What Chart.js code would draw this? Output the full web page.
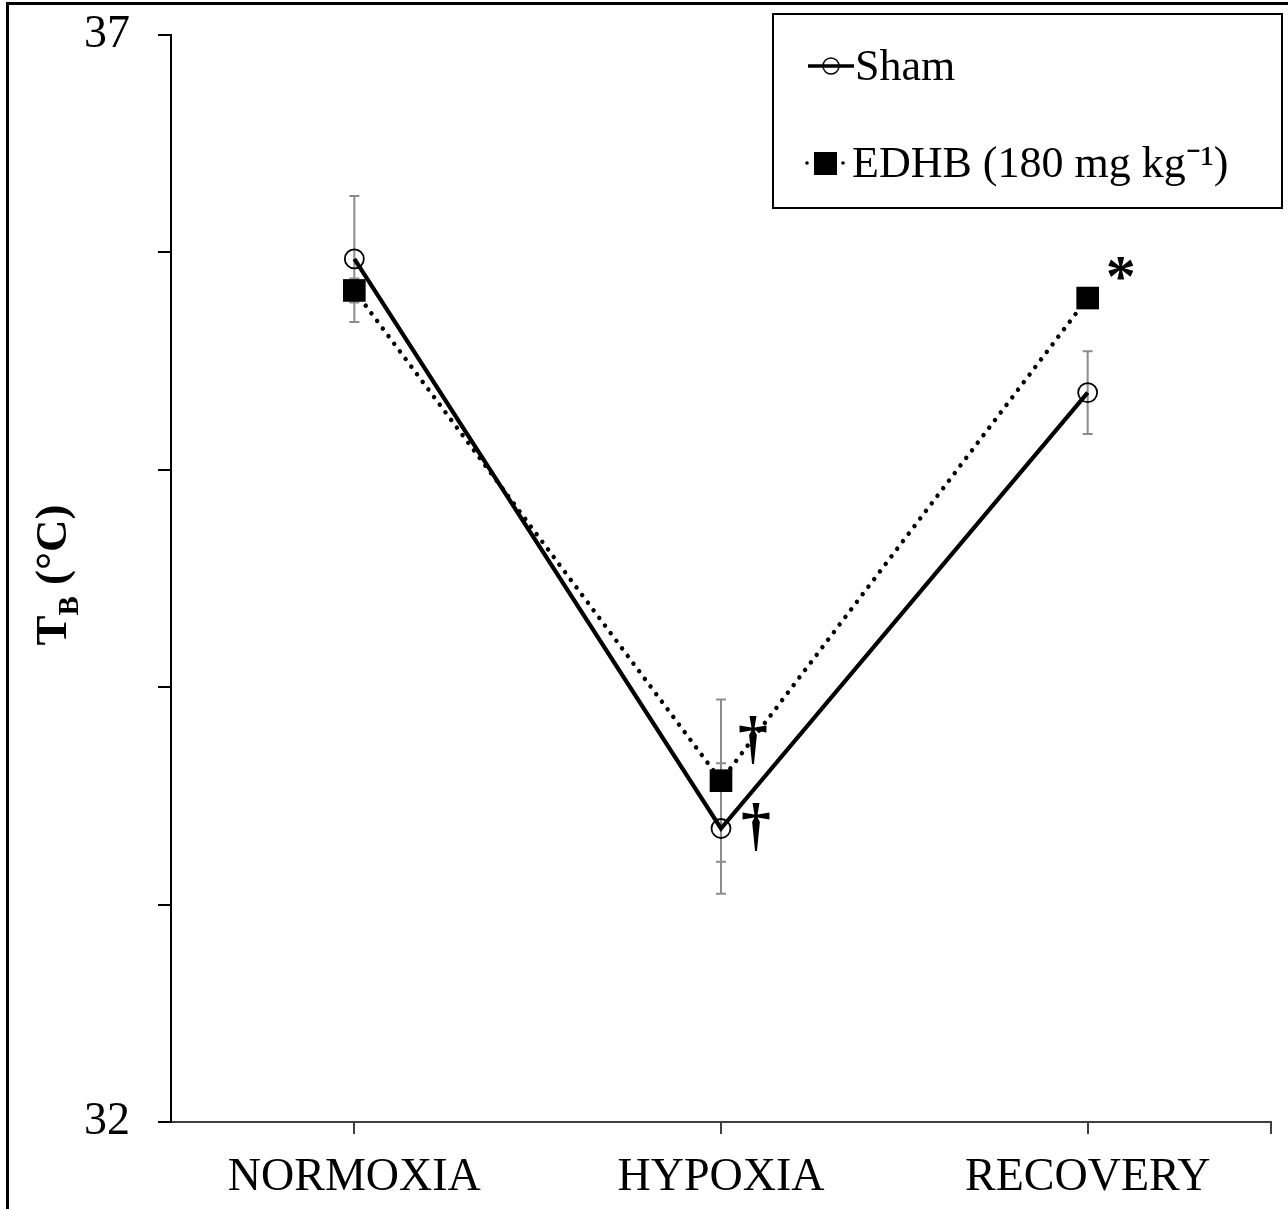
<!DOCTYPE html>
<html><head><meta charset="utf-8">
<script src="https://cdn.jsdelivr.net/npm/chart.js@4/dist/chart.umd.min.js"></script>
<style>html,body{margin:0;padding:0;background:#fff}#wrap{width:1288px;height:1209px;position:relative}</style>
</head><body><div id="wrap"><canvas id="c" width="1288" height="1209"></canvas></div>
<script>
// ---- data ----
const categories = ['NORMOXIA', 'HYPOXIA', 'RECOVERY'];
const seriesNames = ['Sham', 'EDHB (180 mg kg\u207B\u00B9)'];
const shamValues = [35.97, 33.35, 35.355];
const shamErrors = [0.29, 0.30, 0.19];
const edhbValues = [35.825, 33.57, 35.79];
const edhbErrors = [0.055, 0.373, 0.0];
const yTickLabels = { 32: '32', 37: '37' };
const yTitleMain = 'T';
const yTitleSub = 'B';
const yTitleRest = ' (\u00B0C)';
const markSeries = [0, 1, 1];
const markIndex = [1, 1, 2];
const markText = ['\u2020', '\u2020', '*'];

const SERIF = '"Liberation Serif", "Times New Roman", serif';
const markOffsets = [[35, 0], [32, -39], [33, -18]];

const errorBars = {
  id: 'errorBars',
  beforeDatasetsDraw(chart) {
    const ctx = chart.ctx, ys = chart.scales.y;
    const errs = [shamErrors, edhbErrors];
    const vals = [shamValues, edhbValues];
    ctx.save();
    ctx.strokeStyle = '#8c8c8c';
    ctx.lineWidth = 2;
    [0, 1].forEach(d => {
      const meta = chart.getDatasetMeta(d);
      meta.data.forEach((pt, i) => {
        const e = errs[d][i];
        if (!e) return;
        const yt = ys.getPixelForValue(vals[d][i] + e);
        const yb = ys.getPixelForValue(vals[d][i] - e);
        ctx.beginPath();
        ctx.moveTo(pt.x, yt); ctx.lineTo(pt.x, yb);
        ctx.moveTo(pt.x - 5, yt); ctx.lineTo(pt.x + 5, yt);
        ctx.moveTo(pt.x - 5, yb); ctx.lineTo(pt.x + 5, yb);
        ctx.stroke();
      });
    });
    ctx.restore();
  }
};

const extras = {
  id: 'extras',
  afterDraw(chart) {
    const ctx = chart.ctx, ca = chart.chartArea;
    ctx.save();
    // outer frame
    ctx.fillStyle = '#000';
    ctx.fillRect(6, 2, 3, 1207);
    ctx.fillRect(6, 2, 1282, 3);
    // right-end x tick
    ctx.strokeStyle = '#404040';
    ctx.lineWidth = 2;
    ctx.beginPath();
    ctx.moveTo(ca.right, ca.bottom); ctx.lineTo(ca.right, ca.bottom + 12);
    ctx.stroke();

    // annotation marks
    ctx.fillStyle = '#000';
    ctx.textAlign = 'center';
    ctx.textBaseline = 'middle';
    ctx.font = 'bold 60px ' + SERIF;
    markText.forEach((t, k) => {
      const pt = chart.getDatasetMeta(markSeries[k]).data[markIndex[k]];
      const off = markOffsets[k];
      ctx.fillText(t, pt.x + off[0], pt.y + off[1]);
    });

    // y title
    ctx.save();
    ctx.translate(66, 575);
    ctx.rotate(-Math.PI / 2);
    ctx.textBaseline = 'alphabetic';
    ctx.textAlign = 'left';
    const fMain = 'bold 45px ' + SERIF, fSub = 'bold 29px ' + SERIF;
    ctx.font = fMain; const w1 = ctx.measureText(yTitleMain).width;
    ctx.font = fSub; const w2 = ctx.measureText(yTitleSub).width;
    ctx.font = fMain; const w3 = ctx.measureText(yTitleRest).width;
    let x0 = -(w1 + w2 + w3) / 2;
    ctx.font = fMain; ctx.fillText(yTitleMain, x0, 0);
    ctx.font = fSub; ctx.fillText(yTitleSub, x0 + w1, 12);
    ctx.font = fMain; ctx.fillText(yTitleRest, x0 + w1 + w2, 0);
    ctx.restore();

    // legend
    const lx = 773, ly = 14, lw = 509, lh = 194;
    ctx.strokeStyle = '#000';
    ctx.lineWidth = 2;
    ctx.strokeRect(lx, ly, lw, lh);
    // sham sample
    ctx.lineWidth = 3.5;
    ctx.beginPath(); ctx.moveTo(808, 66); ctx.lineTo(854, 66); ctx.stroke();
    ctx.lineWidth = 1.5;
    ctx.beginPath(); ctx.arc(831, 66, 8, 0, Math.PI * 2); ctx.stroke();
    // edhb sample
    ctx.fillStyle = '#000';
    [807, 843].forEach(x => { ctx.beginPath(); ctx.arc(x, 163, 1.8, 0, Math.PI * 2); ctx.fill(); });
    ctx.fillRect(814, 152, 23, 23);
    ctx.font = '44px ' + SERIF;
    ctx.textAlign = 'left';
    ctx.textBaseline = 'middle';
    ctx.fillText(seriesNames[0], 855, 68);
    ctx.fillText(seriesNames[1], 852, 165);
    ctx.restore();
  }
};

new Chart(document.getElementById('c'), {
  type: 'line',
  data: {
    labels: categories,
    datasets: [
      { label: seriesNames[0], data: shamValues, borderColor: '#000', borderWidth: 4.2, tension: 0,
        pointStyle: 'circle', pointRadius: 9.5, pointBorderWidth: 1.8,
        pointBackgroundColor: 'rgba(0,0,0,0)', pointBorderColor: '#000' },
      { label: seriesNames[1], data: edhbValues, borderColor: '#000', borderWidth: 4.5, tension: 0,
        borderDash: [0.01, 9.5], borderCapStyle: 'round',
        pointStyle: 'rect', pointRadius: 16, pointBorderWidth: 0,
        pointBackgroundColor: '#000', pointBorderColor: '#000' }
    ]
  },
  options: {
    responsive: false, animation: false, devicePixelRatio: 1,
    layout: { padding: { top: 35, right: 17, left: 0, bottom: 0 } },
    plugins: { legend: { display: false }, tooltip: { enabled: false } },
    scales: {
      x: {
        offset: true,
        grid: { offset: false, drawOnChartArea: false, drawTicks: true, tickLength: 12, color: '#404040', lineWidth: 2 },
        border: { color: '#404040', width: 2 },
        ticks: { font: { family: SERIF, size: 46 }, color: '#000', padding: 16, maxRotation: 0, autoSkip: false },
        afterFit(s) { s.height = 87; }
      },
      y: {
        min: 32, max: 37,
        ticks: { stepSize: 1, callback: v => yTickLabels[v] || '', font: { family: SERIF, size: 46, lineHeight: 0.2 }, color: '#000', padding: 28 },
        grid: { drawOnChartArea: false, drawTicks: true, tickLength: 13, color: '#000', lineWidth: 2 },
        border: { color: '#000', width: 2 },
        afterFit(s) { s.width = 171; }
      }
    }
  },
  plugins: [errorBars, extras]
});
</script>
</body></html>
